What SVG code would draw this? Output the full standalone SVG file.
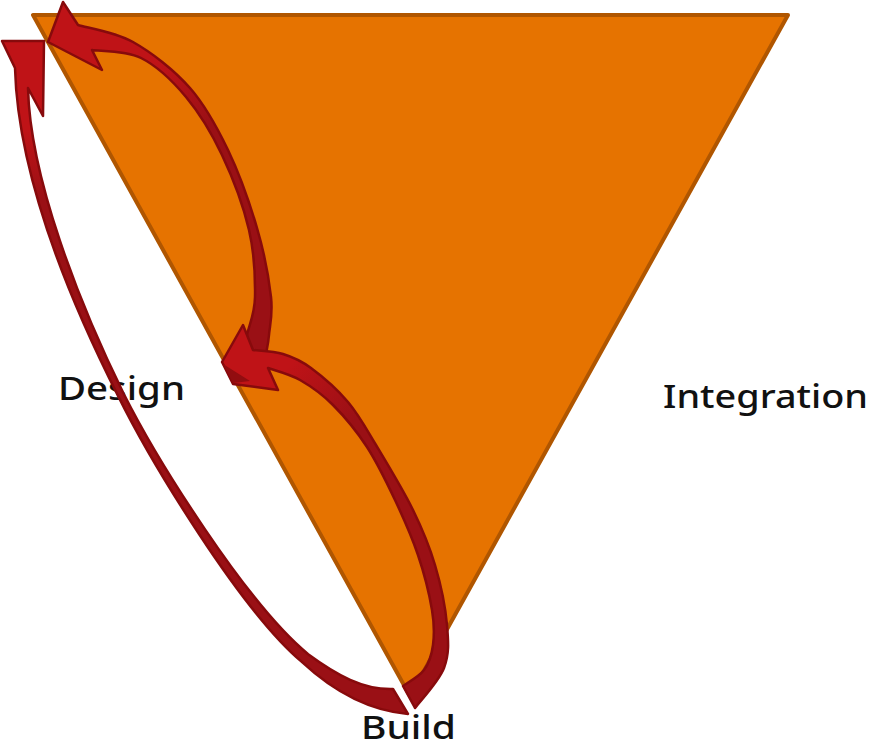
<svg xmlns="http://www.w3.org/2000/svg" width="871" height="744" viewBox="0 0 871 744">
<style>
.lbl{font-family:"Noto Sans","Open Sans","DejaVu Sans",sans-serif;font-size:33px;fill:#111;font-weight:500}
.arrow{stroke:#870a0c;stroke-width:2.5;stroke-linejoin:round}
</style>
<defs>
<linearGradient id="gA" gradientUnits="userSpaceOnUse" x1="0" y1="130" x2="0" y2="200"><stop offset="0" stop-color="#bf1317"/><stop offset="1" stop-color="#9a1015"/></linearGradient>
<linearGradient id="gC" gradientUnits="userSpaceOnUse" x1="150" y1="70" x2="205" y2="130"><stop offset="0" stop-color="#bf1317"/><stop offset="1" stop-color="#9a1015"/></linearGradient>
<linearGradient id="gB" gradientUnits="userSpaceOnUse" x1="295" y1="360" x2="355" y2="420"><stop offset="0" stop-color="#bf1317"/><stop offset="1" stop-color="#9a1015"/></linearGradient>
</defs>
<g id="triangle">
<polygon points="33,15 788,15 410,696" fill="#e67300" stroke="#b05600" stroke-width="4" stroke-linejoin="round"/>
</g>
<g id="design"><text class="lbl" x="58" y="400" textLength="127" lengthAdjust="spacingAndGlyphs">Design</text></g>
<g id="integration"><text class="lbl" x="663" y="408" textLength="205" lengthAdjust="spacingAndGlyphs">Integration</text></g>
<g id="build"><text class="lbl" x="361" y="739" textLength="95" lengthAdjust="spacingAndGlyphs">Build</text></g>
<g id="connectors">
<path id="arrow-build-design" class="arrow" fill="url(#gA)" d="M15,68 C18,180 72.9,306.6 118.3,396.4 C151.1,462.3 240.5,610.3 301.8,661.9 C327.5,685.8 362.5,710 408,714 L393,689 C363.5,690 336.5,675 308.2,654.2 C246.3,603.3 156.9,459.7 123.7,393.7 C79.1,303.4 30,178 28,88 L43,116 L44,41 L2,41 Z"/>
<path id="arrow-design-top" class="arrow" fill="url(#gC)" d="M78,25 C87.2,27.8 114.3,31.5 133,42 C151.7,52.5 174.2,70 190,88 C205.8,106 216.8,126.7 228,150 C239.2,173.3 249.8,203.5 257,228 C264.2,252.5 269,279.2 271,297 C273,314.8 269.8,325.5 269,335 C268.2,344.5 266.5,350.8 266,354 L244,352 C244.5,349.2 245.2,344.2 247,335 C248.8,325.8 254.7,314.5 255,297 C255.3,279.5 254.5,253.7 249,230 C243.5,206.3 232.5,177.2 222,155 C211.5,132.8 199.5,113.2 186,97 C172.5,80.8 156.7,65.8 141,58 C125.3,50.2 100.2,51.3 92,50 L102,70 L48,42 L63,2 Z"/>
<path id="arrow-build-mid" class="arrow" fill="url(#gB)" d="M253,350 C258,350.7 273.3,351 283,354 C292.7,357 300.2,360 311,368 C321.8,376 337.2,389.2 348,402 C358.8,414.8 365.2,427 376,445 C386.8,463 403.2,490 413,510 C422.8,530 429.3,545.8 435,565 C440.7,584.2 445.5,607.8 447,625 C448.5,642.2 449.3,654.2 444,668 C438.7,681.8 419.8,701.3 415,708 L403,686 C406.5,683.3 419,676.8 424,670 C429,663.2 431.7,655 433,645 C434.3,635 434.5,625 432,610 C429.5,595 424.2,573.3 418,555 C411.8,536.7 403.5,518 395,500 C386.5,482 377.3,462.8 367,447 C356.7,431.2 344.2,416.2 333,405 C321.8,393.8 310.8,386.2 300,380 C289.2,373.8 273.3,370 268,368 L278,390 L233,384 L222,362 L243,325 Z"/>
<polygon points="223,364 233,383 250,381" fill="#920d10"/>
</g>
</svg>
